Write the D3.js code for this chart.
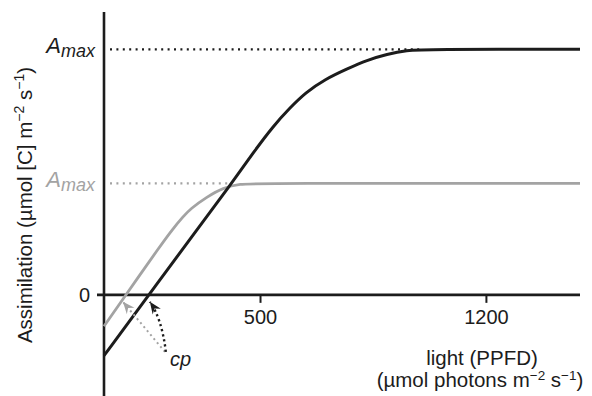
<!DOCTYPE html>
<meta charset="utf-8">
<html>
<head>
	<script src="https://cdn.jsdelivr.net/npm/d3@7"></script>
	<style>
		body { margin: 0; background: #fff; }
		text { font-family: "Liberation Sans", Arial, sans-serif; }
	</style>
</head>
<body>
	<svg id="chart"></svg>
	<script>
		// light (PPFD) and assimilation
		var lightHigh = [15, 154, 300, 405, 480, 540, 590, 640, 700, 768, 830, 892, 954, 1010, 1490];
		var assimHigh = [-6.2, 0, 6.5, 11.1, 14.6, 17.2, 19.0, 20.6, 21.95, 23.0, 23.9, 24.5, 24.9, 25, 25];
		var lightLow = [15, 83, 188, 229, 260, 282, 334, 384, 437, 490, 1490];
		var assimLow = [-3.2, 0, 4.93, 6.75, 7.95, 8.74, 9.97, 10.9, 11.3, 11.35, 11.35];

		var amaxHigh = 25, amaxLow = 11.35;
		var cpHigh = 154, cpLow = 83;
		var xTicks = [500, 1200];

		var svgWidth = 592, svgHeight = 396;
		var margin = {top: 12, right: 12, bottom: 0, left: 104};

		var svg = d3.select("#chart")
			.attr("width", svgWidth)
			.attr("height", svgHeight);

		var x = d3.scaleLinear()
			.domain([15, 1490])
			.range([margin.left, 580]);

		var y = d3.scaleLinear()
			.domain([-10.3, 28.8])
			.range([396, margin.top]);

		var black = "#1c1c1c", grey = "#a3a3a3";

		// markers for the cp arrows
		var defs = svg.append("defs");
		[["arrBlack", black], ["arrGrey", grey]].forEach(function(m) {
			defs.append("marker")
				.attr("id", m[0])
				.attr("viewBox", "-14 -6 16 12")
				.attr("refX", 0).attr("refY", 0)
				.attr("markerWidth", 16).attr("markerHeight", 12)
				.attr("markerUnits", "userSpaceOnUse")
				.attr("orient", "auto")
				.append("path")
					.attr("d", "M0,0 L-12,-5 L-8,0 L-12,5 Z")
					.attr("fill", m[1]);
		});

		// dotted Amax guides
		svg.append("line")
			.attr("x1", x(15) + 6).attr("x2", x(1000))
			.attr("y1", y(amaxHigh)).attr("y2", y(amaxHigh))
			.attr("stroke", black).attr("stroke-width", 2.2)
			.attr("stroke-dasharray", "2,4.4");
		svg.append("line")
			.attr("x1", x(15) + 6).attr("x2", x(400))
			.attr("y1", y(amaxLow)).attr("y2", y(amaxLow))
			.attr("stroke", grey).attr("stroke-width", 2.2)
			.attr("stroke-dasharray", "2,4.4");

		// axes
		svg.append("line")
			.attr("x1", x(15)).attr("x2", x(15))
			.attr("y1", y(28.8)).attr("y2", svgHeight)
			.attr("stroke", black).attr("stroke-width", 2.6);
		svg.append("line")
			.attr("x1", x(15) - 7).attr("x2", x(1490))
			.attr("y1", y(0)).attr("y2", y(0))
			.attr("stroke", black).attr("stroke-width", 2.6);

		svg.selectAll(".tick").data(xTicks).enter()
			.append("line")
				.attr("class", "tick")
				.attr("x1", function(d) { return x(d); })
				.attr("x2", function(d) { return x(d); })
				.attr("y1", y(0)).attr("y2", y(0) + 8)
				.attr("stroke", black).attr("stroke-width", 2);
		svg.selectAll(".tickLabel").data(xTicks).enter()
			.append("text")
				.attr("class", "tickLabel")
				.attr("x", function(d) { return x(d); })
				.attr("y", y(0) + 29)
				.attr("text-anchor", "middle")
				.attr("font-size", 20)
				.attr("fill", black)
				.text(function(d) { return d; });

		svg.append("text")
			.attr("x", 90).attr("y", y(0) + 7)
			.attr("text-anchor", "end")
			.attr("font-size", 20)
			.attr("fill", black)
			.text("0");

		// curves
		var line = d3.line()
			.x(function(d) { return x(d[0]); })
			.y(function(d) { return y(d[1]); })
			.curve(d3.curveBasis);

		svg.append("path")
			.datum(d3.zip(lightLow, assimLow))
			.attr("d", line)
			.attr("fill", "none")
			.attr("stroke", grey)
			.attr("stroke-width", 2.8);
		svg.append("path")
			.datum(d3.zip(lightHigh, assimHigh))
			.attr("d", line)
			.attr("fill", "none")
			.attr("stroke", black)
			.attr("stroke-width", 3);

		// Amax labels
		function amaxLabel(v, col) {
			var t = svg.append("text")
				.attr("x", 95).attr("y", y(v) + 4)
				.attr("text-anchor", "end")
				.attr("font-style", "italic")
				.attr("fill", col);
			t.append("tspan").attr("font-size", 22).text("A");
			t.append("tspan").attr("font-size", 18).attr("dy", 4).text("max");
		}
		amaxLabel(amaxHigh, black);
		amaxLabel(amaxLow, grey);

		// cp arrows
		var bx = x(cpHigh), gx = x(cpLow), y0 = y(0);
		svg.append("path")
			.attr("d", "M" + (gx + 39) + "," + (y0 + 57) + " L" + (gx - 3) + "," + (y0 + 7))
			.attr("fill", "none")
			.attr("stroke", grey).attr("stroke-width", 2)
			.attr("stroke-dasharray", "2,3.2")
			.attr("marker-end", "url(#arrGrey)");
		svg.append("path")
			.attr("d", "M" + (bx + 17) + "," + (y0 + 57) + " Q" + (bx + 13) + "," + (y0 + 24) + " " + (bx + 1) + "," + (y0 + 7))
			.attr("fill", "none")
			.attr("stroke", black).attr("stroke-width", 2.4)
			.attr("stroke-dasharray", "2.2,3")
			.attr("marker-end", "url(#arrBlack)");

		svg.append("text")
			.attr("x", 170).attr("y", y0 + 71)
			.attr("font-size", 20)
			.attr("font-style", "italic")
			.attr("fill", black)
			.text("cp");

		// axis titles
		var xt = svg.append("g").attr("fill", black).attr("font-size", 20.5);
		xt.append("text")
			.attr("x", 482).attr("y", 365)
			.attr("text-anchor", "middle")
			.text("light (PPFD)");
		var xt2 = xt.append("text")
			.attr("x", 480).attr("y", 387)
			.attr("text-anchor", "middle");
		xt2.append("tspan").text("(µmol photons m");
		xt2.append("tspan").attr("font-size", 13.5).attr("dy", -7).text("−2");
		xt2.append("tspan").attr("dy", 7).text(" s");
		xt2.append("tspan").attr("font-size", 13.5).attr("dy", -7).text("−1");
		xt2.append("tspan").attr("dy", 7).text(")");

		var yt = svg.append("text")
			.attr("transform", "translate(32,205) rotate(-90)")
			.attr("text-anchor", "middle")
			.attr("font-size", 20.5)
			.attr("fill", black);
		yt.append("tspan").text("Assimilation (µmol [C] m");
		yt.append("tspan").attr("font-size", 14).attr("dy", -8).text("−2");
		yt.append("tspan").attr("dy", 8).text(" s");
		yt.append("tspan").attr("font-size", 14).attr("dy", -8).text("−1");
		yt.append("tspan").attr("dy", 8).text(")");
	</script>
</body>
</html>
